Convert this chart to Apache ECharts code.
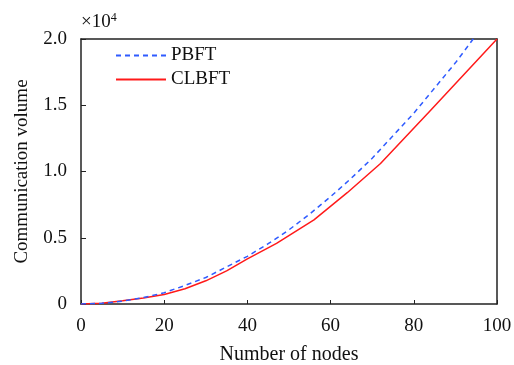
<!DOCTYPE html>
<html><head><meta charset="utf-8">
<script src="https://cdn.jsdelivr.net/npm/echarts@6/dist/echarts.min.js"></script>
<style>html,body{margin:0;padding:0;background:#fff}#c{width:514px;height:365px}</style>
</head><body><div id="c"></div>
<script>
const seriesNames = ['PBFT', 'CLBFT'];
const pbftNodes = [0,5,10,15,20,25,30,35,40,45,50,55,60,65,70,75,80,85,90,95,100];
const pbftValues = [0,0.005,0.022,0.048,0.085,0.14,0.2,0.28,0.36,0.455,0.56,0.68,0.81,0.95,1.1,1.27,1.44,1.63,1.82,2.03,2.25];
const clbftNodes = [0,5,10,15,20,25,30,35,40,47,56,64,72,84,92,100];
const clbftValues = [0,0.006,0.025,0.045,0.072,0.115,0.175,0.25,0.34,0.458,0.635,0.84,1.06,1.46,1.73,2.0];
const xTicks = [0,20,40,60,80,100];
const yTicks = [0,0.5,1.0,1.5,2.0];

const font = '"Liberation Serif", "Times New Roman", serif';
const chart = echarts.init(document.getElementById('c'), null, {renderer:'canvas'});
chart.setOption({
  animation:false,
  grid:{left:81, right:17, top:39, bottom:61, containLabel:false, outerBoundsMode:'none'},
  graphic:[{type:'text', left:81, top:12, style:{
    text:'×10{s|4}', rich:{s:{fontSize:12, fontFamily:font, fill:'#111', verticalAlign:'top', padding:[0,0,9,0]}},
    font:'19px ' + font, fill:'#111'}}],
  legend:{left:110, top:41, orient:'vertical', itemWidth:50, itemHeight:12, itemGap:5,
    itemStyle:{opacity:0},
    textStyle:{fontFamily:font, fontSize:19, color:'#111'},
    data:seriesNames},
  xAxis:[{type:'value', min:0, max:100, interval:20,
    name:'Number of nodes', nameLocation:'middle', nameGap:41,
    nameTextStyle:{fontFamily:font, fontSize:20, color:'#111'},
    axisLine:{show:true, onZero:false, lineStyle:{color:'#222', width:1.5}},
    axisTick:{show:true, inside:true, length:4, lineStyle:{color:'#222'}},
    axisLabel:{fontFamily:font, fontSize:19, color:'#111', margin:13,
      formatter:v=>xTicks.includes(v)?String(v):''},
    splitLine:{show:false}},
    {type:'value', position:'top', min:0, max:100,
     axisLine:{show:true, onZero:false, lineStyle:{color:'#222', width:1.5}},
     axisTick:{show:false}, axisLabel:{show:false}, splitLine:{show:false}}],
  yAxis:[{type:'value', min:0, max:2.0, interval:0.5,
    name:'Communication volume', nameLocation:'middle', nameGap:49,
    nameTextStyle:{fontFamily:font, fontSize:19, color:'#111'},
    axisLine:{show:true, onZero:false, lineStyle:{color:'#222', width:1.5}},
    axisTick:{show:true, inside:true, length:5, lineStyle:{color:'#222'}},
    axisLabel:{fontFamily:font, fontSize:19, color:'#111', margin:14,
      formatter:v=>yTicks.includes(v)?(v===0?'0':v.toFixed(1)):''},
    splitLine:{show:false}},
    {type:'value', position:'right', min:0, max:2.0,
     axisLine:{show:true, onZero:false, lineStyle:{color:'#222', width:1.5}},
     axisTick:{show:false}, axisLabel:{show:false}, splitLine:{show:false}}],
  series:[
    {name:seriesNames[0], type:'line', clip:true, showSymbol:false, symbol:'none',
     data:pbftNodes.map((n,i)=>[n,pbftValues[i]]),
     lineStyle:{color:'#2f5bff', width:1.5, type:[5,4]}, itemStyle:{color:'#2f5bff'}, z:3},
    {name:seriesNames[1], type:'line', clip:true, showSymbol:false, symbol:'none',
     data:clbftNodes.map((n,i)=>[n,clbftValues[i]]),
     lineStyle:{color:'#ff1a1a', width:1.5}, itemStyle:{color:'#ff1a1a'}, z:2}
  ]
});
</script></body></html>
